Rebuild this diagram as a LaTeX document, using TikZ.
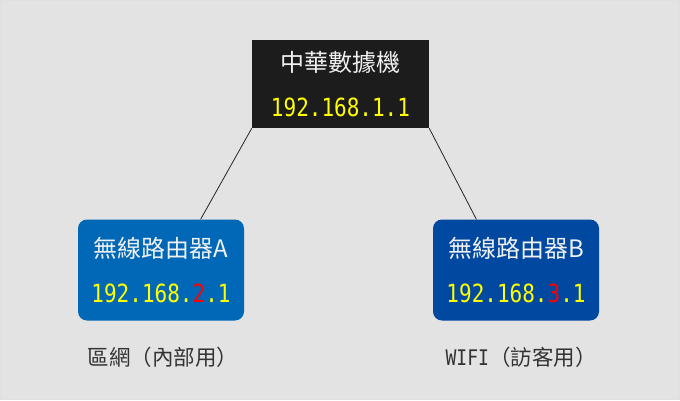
\documentclass[tikz,border=0pt]{standalone}
\usepackage{fontspec}
\usepackage{tikz}
\newfontfamily\cjkfont{Noto Sans CJK TC}
\newfontfamily\ipfont[FakeStretch=0.84]{DejaVu Sans Mono}
\definecolor{bggray}{HTML}{E3E3E3}
\definecolor{modemblack}{HTML}{1C1C1C}
\definecolor{routerblue}{HTML}{0068B7}
\definecolor{guestblue}{HTML}{0048A0}
\definecolor{ipyellow}{HTML}{FFFF00}
\definecolor{ipred}{HTML}{FF0000}

\begin{document}
\begin{tikzpicture}[x=1pt, y=-1pt]

% box and label styles
\tikzstyle{box} = [rectangle, inner sep=0pt, text=white!94!black, align=center, font=\cjkfont\fontsize{24pt}{45pt}\selectfont]
\tikzstyle{router} = [box, rounded corners=9pt, minimum width=166pt, minimum height=101pt]
\tikzstyle{note} = [font=\cjkfont\fontsize{21.5pt}{24pt}\selectfont, text=black!80]

% Background
\useasboundingbox (0,0) rectangle (680,400);
\fill[bggray] (0,0) rectangle (680,400);
\draw[black!12, line width=1pt] (0.5,0.5) rectangle (679.5,399.5);

% Top Node
\node[box, fill=modemblack, minimum width=177pt, minimum height=88pt] (modem) at (340.5,84) {中華數據機\\{\ipfont\fontsize{25pt}{45pt}\selectfont\color{ipyellow}192.168.1.1}};

% Router Nodes
\node[router, fill=routerblue] (routerA) at (161,270) {無線路由器A\\{\ipfont\fontsize{25pt}{45pt}\selectfont\color{ipyellow}192.168.\textcolor{ipred}{2}.1}};
\node[router, fill=guestblue] (routerB) at (516,270) {無線路由器B\\{\ipfont\fontsize{25pt}{45pt}\selectfont\color{ipyellow}192.168.\textcolor{ipred}{3}.1}};

% Links
\draw[black!85, line width=0.8pt] (modem.south west) -- (routerA.52);
\draw[black!85, line width=0.8pt] (modem.south east) -- (routerB.128);

% Bottom labels
\node[note] (lan) at (163,357) {區網（內部用）};
\node[note] (wifi) at (521,357) {{\ipfont WIFI}（訪客用）};

\end{tikzpicture}
\end{document}
